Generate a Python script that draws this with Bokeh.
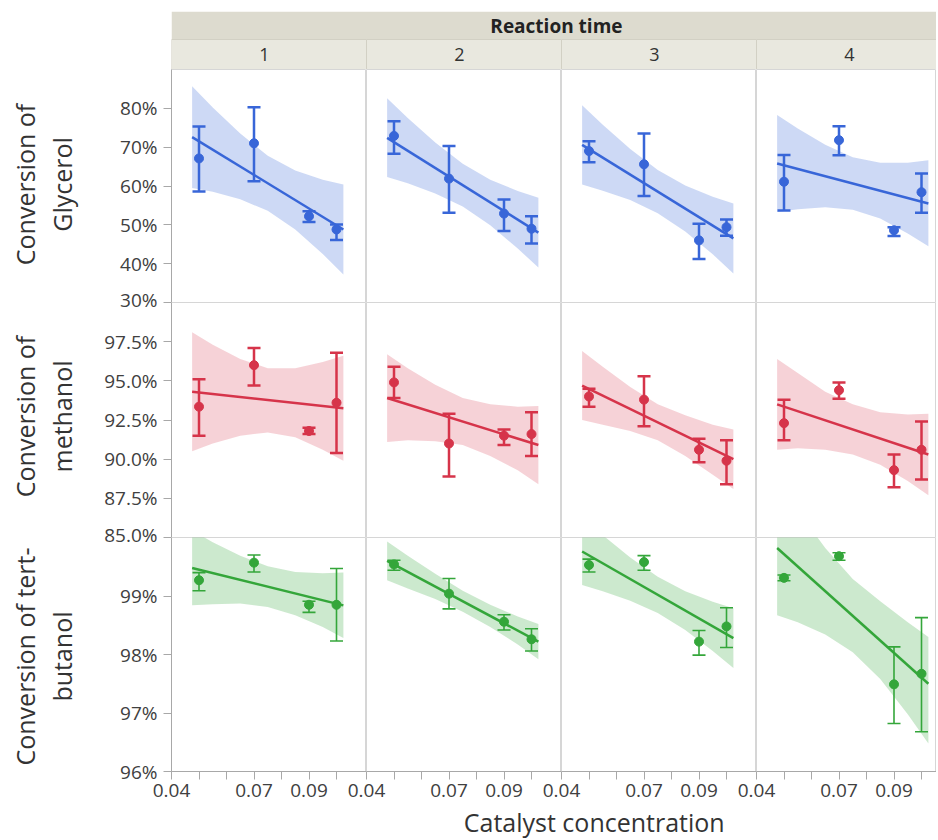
import math
from bokeh.plotting import figure
from bokeh.layouts import column, row
from bokeh.models import (Range1d, FixedTicker, PrintfTickFormatter, Whisker,
                          TeeHead, ColumnDataSource)
from bokeh.core.properties import value
from bokeh.embed import file_html
from bokeh.resources import INLINE

FONT = "Open Sans"

# ---------------- data ----------------
reaction_times = ["1", "2", "3", "4"]
concentration = [0.05, 0.07, 0.09, 0.10]
fit_x = [0.0475, 0.1025]
band_x = [0.0475, 0.055, 0.065, 0.075, 0.085, 0.095, 0.1025]
x_major_ticks = [0.04, 0.07, 0.09]
x_minor_ticks = [0.05, 0.06, 0.08, 0.10]

glycerol_mean = [[67.1, 71.0, 52.2, 48.8], [72.9, 61.9, 52.9, 49.0],
                 [69.0, 65.6, 46.0, 49.4], [61.1, 71.8, 48.6, 58.4]]
glycerol_lo = [[58.6, 61.2, 50.7, 46.1], [68.3, 53.1, 48.4, 45.2],
               [66.1, 57.4, 41.2, 47.2], [53.7, 67.9, 47.1, 53.1]]
glycerol_hi = [[75.3, 80.3, 53.5, 50.1], [76.7, 70.3, 56.5, 52.2],
               [71.5, 73.5, 50.3, 51.4], [68.0, 75.4, 49.4, 63.2]]
glycerol_fit = [[72.6, 48.8], [72.4, 48.0], [70.6, 46.5], [65.8, 55.5]]
glycerol_band_hi = [[85.7, 80.2, 73.5, 67.8, 64.0, 61.6, 60.4],
                    [82.6, 77.5, 71.2, 65.7, 61.6, 58.7, 57.0],
                    [80.8, 75.8, 69.5, 64.1, 60.1, 57.2, 55.5],
                    [78.3, 74.8, 70.6, 67.4, 66.0, 66.0, 66.6]]
glycerol_band_lo = [[59.5, 58.5, 56.6, 53.6, 48.8, 42.5, 37.2],
                    [62.3, 60.7, 58.1, 54.7, 49.9, 43.9, 39.0],
                    [60.4, 58.8, 56.4, 53.0, 48.3, 42.4, 37.5],
                    [53.3, 54.0, 54.5, 53.9, 51.6, 47.8, 44.5]]
glycerol_ticks = [30, 40, 50, 60, 70, 80]

methanol_mean = [[93.35, 96.0, 91.8, 93.6], [94.9, 91.0, 91.5, 91.6],
                 [94.0, 93.8, 90.6, 89.9], [92.3, 94.4, 89.3, 90.6]]
methanol_lo = [[91.5, 94.7, 91.6, 90.4], [93.9, 88.9, 90.9, 90.2],
               [93.35, 92.1, 89.8, 88.4], [91.2, 93.85, 88.2, 88.7]]
methanol_hi = [[95.1, 97.1, 92.0, 96.8], [95.9, 92.9, 91.9, 93.0],
               [94.5, 95.3, 91.3, 91.2], [93.8, 94.9, 90.3, 92.4]]
methanol_fit = [[94.3, 93.25], [93.9, 90.9], [94.7, 90.0], [93.5, 90.3]]
methanol_band_hi = [[98.1, 97.3, 96.4, 95.8, 95.8, 96.2, 96.6],
                    [96.7, 95.8, 94.75, 93.9, 93.5, 93.35, 93.4],
                    [96.9, 95.9, 94.6, 93.5, 92.8, 92.2, 91.9],
                    [96.4, 95.5, 94.3, 93.5, 93.0, 92.85, 92.9]]
methanol_band_lo = [[90.5, 91.0, 91.5, 91.7, 91.4, 90.6, 89.9],
                    [91.1, 91.2, 91.15, 90.9, 90.2, 89.3, 88.4],
                    [92.5, 92.2, 91.8, 91.2, 90.2, 89.0, 88.1],
                    [90.6, 90.7, 90.6, 90.3, 89.65, 88.6, 87.7]]
methanol_ticks = [85, 87.5, 90, 92.5, 95, 97.5]

tbutanol_mean = [[99.27, 99.57, 98.85, 98.85], [99.54, 99.04, 98.56, 98.26],
                 [99.53, 99.58, 98.22, 98.48], [99.31, 99.68, 97.49, 97.67]]
tbutanol_lo = [[99.09, 99.41, 98.72, 98.23], [99.44, 98.78, 98.42, 98.06],
               [99.41, 99.44, 97.99, 98.12], [99.26, 99.61, 96.82, 96.68]]
tbutanol_hi = [[99.40, 99.70, 98.91, 99.47], [99.61, 99.30, 98.68, 98.44],
               [99.63, 99.69, 98.41, 98.80], [99.36, 99.74, 98.13, 98.63]]
tbutanol_fit = [[99.48, 98.84], [99.60, 98.22], [99.76, 98.28], [99.82, 97.5]]
tbutanol_band_hi = [[100.12, 99.92, 99.69, 99.51, 99.41, 99.39, 99.40],
                    [99.93, 99.69, 99.38, 99.09, 98.85, 98.65, 98.52],
                    [100.34, 100.04, 99.66, 99.33, 99.08, 98.90, 98.79],
                    [100.97, 100.46, 99.82, 99.29, 98.91, 98.55, 98.30]]
tbutanol_band_lo = [[98.84, 98.86, 98.87, 98.81, 98.67, 98.47, 98.28],
                    [99.27, 99.13, 98.95, 98.73, 98.47, 98.17, 97.92],
                    [99.19, 99.08, 98.92, 98.71, 98.42, 98.06, 97.77],
                    [98.67, 98.55, 98.34, 98.04, 97.58, 96.98, 96.48]]
tbutanol_ticks = [96, 97, 98, 99]

responses = [
    dict(title=["Conversion of", "Glycerol"], mean=glycerol_mean, lo=glycerol_lo,
         hi=glycerol_hi, fit=glycerol_fit, blo=glycerol_band_lo, bhi=glycerol_band_hi,
         ticks=glycerol_ticks, yr=(30, 90), fmt="%d%%", color="#3866d8",
         alpha=0.25, ew=2.5, title_y=184),
    dict(title=["Conversion of", "methanol"], mean=methanol_mean, lo=methanol_lo,
         hi=methanol_hi, fit=methanol_fit, blo=methanol_band_lo, bhi=methanol_band_hi,
         ticks=methanol_ticks, yr=(85, 100), fmt="%.1f%%", color="#d6344a",
         alpha=0.22, ew=2.5, title_y=416),
    dict(title=["Conversion of tert-", "butanol"], mean=tbutanol_mean, lo=tbutanol_lo,
         hi=tbutanol_hi, fit=tbutanol_fit, blo=tbutanol_band_lo, bhi=tbutanol_band_hi,
         ticks=tbutanol_ticks, yr=(96, 100), fmt="%d%%", color="#34a63a",
         alpha=0.25, ew=1.6, title_y=656),
]

# ---------------- layout constants ----------------
TITLE_W = 80          # left strip with the row titles
AXIS_W = 91           # border for the y axis of column 1
PW = 195              # panel frame width
LAST_W = 180          # last (cropped) panel
OVL = 20              # horizontal overlap for x labels
ROW_OVL = 10          # vertical overlap for boundary y labels
FRAME_H = [233, 235, 234]
BOTTOM_B = 40
HDR_TOP = 11
HEADER_H = HDR_TOP + 58
XTITLE_H = 28
XTITLE_OVL = 12
PX_PER_UNIT = 2750.0  # pixels per concentration unit

AX_COLOR = "#a8a8a8"
LBL_COLOR = "#404040"

rows = []
for r, resp in enumerate(responses):
    figs = []
    for c in range(4):
        fw = PW if c < 3 else LAST_W
        left_b = AXIS_W if c == 0 else OVL
        bottom_b = ROW_OVL if r < 2 else BOTTOM_B
        p = figure(width=left_b + fw, height=FRAME_H[r] + bottom_b,
                   x_range=Range1d(0.04, 0.04 + fw / PX_PER_UNIT),
                   y_range=Range1d(*resp["yr"]),
                   output_backend="svg", toolbar_location=None,
                   x_axis_location="below" if r == 2 else None,
                   y_axis_location="left" if c == 0 else None,
                   min_border_left=left_b, min_border_right=0,
                   min_border_top=0, min_border_bottom=bottom_b,
                   margin=(-ROW_OVL if r > 0 else 0, 0, 0, -OVL if c > 0 else 0),
                   border_fill_color=None, background_fill_color="white",
                   outline_line_color="#d6d6d6", outline_line_width=1)
        p.xgrid.visible = False
        p.ygrid.visible = False

        col = resp["color"]
        p.varea(x=band_x, y1=resp["blo"][c], y2=resp["bhi"][c],
                fill_color=col, fill_alpha=resp["alpha"])
        p.line(fit_x, resp["fit"][c], line_color=col, line_width=2.5)
        src = ColumnDataSource(dict(x=concentration, lo=resp["lo"][c], hi=resp["hi"][c]))
        p.add_layout(Whisker(base="x", lower="lo", upper="hi", source=src,
                             line_color=col, line_width=resp["ew"],
                             upper_head=TeeHead(size=13, line_color=col, line_width=resp["ew"]),
                             lower_head=TeeHead(size=13, line_color=col, line_width=resp["ew"])))
        p.scatter(concentration, resp["mean"][c], size=9, marker="circle",
                  fill_color=col, line_color=col)

        if c == 0:
            ax = p.yaxis[0]
            ax.ticker = FixedTicker(ticks=resp["ticks"])
            ax.formatter = PrintfTickFormatter(format=resp["fmt"])
            ax.major_label_text_font = FONT
            ax.major_label_text_font_size = "19px"
            ax.major_label_text_color = LBL_COLOR
            ax.major_label_standoff = 6
            ax.axis_line_color = AX_COLOR
            ax.major_tick_line_color = AX_COLOR
            ax.major_tick_out = 8
            ax.major_tick_in = 0
            ax.minor_tick_line_color = None
        if r == 2:
            ax = p.xaxis[0]
            ax.ticker = FixedTicker(ticks=x_major_ticks, minor_ticks=x_minor_ticks)
            ax.formatter = PrintfTickFormatter(format="%.2f")
            ax.major_label_text_font = FONT
            ax.major_label_text_font_size = "19px"
            ax.major_label_text_color = LBL_COLOR
            ax.major_label_standoff = 4
            ax.axis_line_color = AX_COLOR
            ax.major_tick_line_color = AX_COLOR
            ax.minor_tick_line_color = AX_COLOR
            ax.major_tick_out = 8
            ax.major_tick_in = 0
            ax.minor_tick_out = 8
            ax.minor_tick_in = 0
        figs.append(p)
    rows.append(row(*figs))

# ---------------- header strip ----------------
grid_w = AXIS_W + 3 * PW + LAST_W
hdr = figure(width=grid_w, height=HEADER_H, output_backend="svg", toolbar_location=None,
             x_range=Range1d(0, (grid_w - AXIS_W) / PW), y_range=Range1d(0, 58),
             x_axis_location=None, y_axis_location=None,
             min_border_left=AXIS_W, min_border_right=0, min_border_top=HDR_TOP,
             min_border_bottom=0, outline_line_color=None,
             border_fill_color=None, background_fill_color=None)
hdr.xgrid.visible = False
hdr.ygrid.visible = False
idx = list(range(len(reaction_times)))
hdr.quad(left=[0], right=[len(reaction_times)], bottom=[30], top=[58],
         fill_color="#dddbcf", line_color=None)
hdr.quad(left=idx, right=[i + 1 for i in idx], bottom=0, top=30,
         fill_color="#e9e8df", line_color="#d2d0c4", line_width=1)
hdr.text(x=[i + 0.477 for i in idx], y=15, text=reaction_times,
         text_align="center", text_baseline="middle", text_font=value(FONT),
         text_font_size="18px", text_color="#333333")
hdr.text(x=[1.974], y=[44], text=["Reaction time"], text_align="center",
         text_baseline="middle", text_font=value(FONT), text_font_size="19px",
         text_font_style="bold", text_color="#222222")

# ---------------- x title strip (overlaps the transparent axis border) ----------------
xt_h = XTITLE_H + XTITLE_OVL
xt = figure(width=grid_w, height=xt_h, output_backend="svg", toolbar_location=None,
            x_range=Range1d(0, grid_w), y_range=Range1d(0, xt_h),
            x_axis_location=None, y_axis_location=None,
            min_border_left=0, min_border_right=0, min_border_top=0, min_border_bottom=0,
            margin=(-XTITLE_OVL, 0, 0, 0),
            outline_line_color=None, border_fill_color=None, background_fill_color=None)
xt.xgrid.visible = False
xt.ygrid.visible = False
xt.text(x=[553 - TITLE_W], y=[18], text=["Catalyst concentration"], text_align="center",
        text_baseline="middle", text_font=value(FONT), text_font_size="25px",
        text_color="#333333")

# ---------------- row titles strip ----------------
total_h = HEADER_H + FRAME_H[0] + ROW_OVL + FRAME_H[1] + FRAME_H[2] + BOTTOM_B + XTITLE_H
yt = figure(width=TITLE_W, height=total_h, output_backend="svg", toolbar_location=None,
            x_range=Range1d(0, TITLE_W), y_range=Range1d(0, total_h),
            x_axis_location=None, y_axis_location=None,
            min_border_left=0, min_border_right=0, min_border_top=0, min_border_bottom=0,
            outline_line_color=None, border_fill_color=None, background_fill_color=None)
yt.xgrid.visible = False
yt.ygrid.visible = False
for resp in responses:
    yc = total_h - resp["title_y"]
    yt.text(x=[24, 61], y=[yc, yc], text=resp["title"], angle=math.pi / 2,
            text_align="center", text_baseline="middle", text_font=value(FONT),
            text_font_size="25px", text_color="#333333")

layout = row(yt, column(hdr, *rows, xt))
open("out.html", "w").write(file_html(layout, INLINE))
